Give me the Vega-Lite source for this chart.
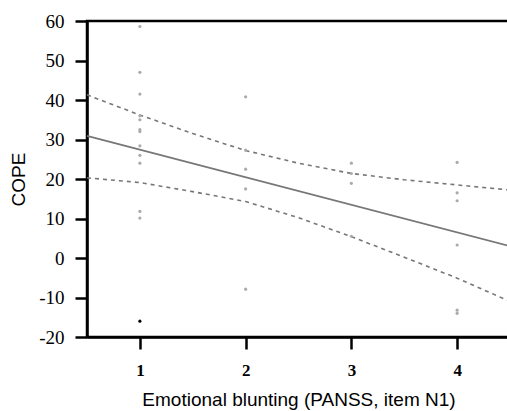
{
  "$schema": "https://vega.github.io/schema/vega-lite/v6.json",
  "autosize": "none",
  "padding": {"left": 87, "top": 21, "right": 0, "bottom": 74},
  "width": 423,
  "height": 316,
  "background": "white",
  "config": {
    "view": {"stroke": "black", "strokeWidth": 2.5},
    "axis": {"grid": false, "ticks": true, "domain": true, "domainColor": "#000000", "domainWidth": 2.5, "domainOpacity": 1, "tickColor": "#000000", "tickOpacity": 1, "tickWidth": 2.5, "tickSize": 12, "labelColor": "#000000", "titleColor": "#000000", "labelOverlap": false, "labelFlush": false, "labelBound": false}
  },
  "datasets": {
    "points": [
      {"x": 1, "y": 58.6, "kind": "regular"},
      {"x": 1, "y": 47, "kind": "regular"},
      {"x": 1, "y": 41.5, "kind": "regular"},
      {"x": 1, "y": 36, "kind": "regular"},
      {"x": 1, "y": 35, "kind": "regular"},
      {"x": 1, "y": 32.5, "kind": "regular"},
      {"x": 1, "y": 32, "kind": "regular"},
      {"x": 1, "y": 28.4, "kind": "regular"},
      {"x": 1, "y": 26, "kind": "regular"},
      {"x": 1, "y": 24, "kind": "regular"},
      {"x": 1, "y": 11.8, "kind": "regular"},
      {"x": 1, "y": 10.1, "kind": "regular"},
      {"x": 1, "y": -16, "kind": "extreme"},
      {"x": 2, "y": 40.8, "kind": "regular"},
      {"x": 2, "y": 27.3, "kind": "regular"},
      {"x": 2, "y": 22.5, "kind": "regular"},
      {"x": 2, "y": 17.5, "kind": "regular"},
      {"x": 2, "y": -7.9, "kind": "regular"},
      {"x": 3, "y": 24, "kind": "regular"},
      {"x": 3, "y": 21.4, "kind": "regular"},
      {"x": 3, "y": 18.9, "kind": "regular"},
      {"x": 3, "y": 5.5, "kind": "regular"},
      {"x": 4, "y": 24.2, "kind": "regular"},
      {"x": 4, "y": 16.5, "kind": "regular"},
      {"x": 4, "y": 14.5, "kind": "regular"},
      {"x": 4, "y": 3.3, "kind": "regular"},
      {"x": 4, "y": -13.2, "kind": "regular"},
      {"x": 4, "y": -14, "kind": "regular"}
    ],
    "fit": [
      {"x": 0.5, "y": 30.9},
      {"x": 4.5, "y": 3.0}
    ],
    "ci": [
      {"x": 0.5, "y": 41.3, "bound": "upper"},
      {"x": 1, "y": 36.2, "bound": "upper"},
      {"x": 1.5, "y": 31.5, "bound": "upper"},
      {"x": 2, "y": 27.2, "bound": "upper"},
      {"x": 2.5, "y": 24, "bound": "upper"},
      {"x": 3, "y": 21.4, "bound": "upper"},
      {"x": 3.5, "y": 19.8, "bound": "upper"},
      {"x": 4, "y": 18.5, "bound": "upper"},
      {"x": 4.5, "y": 17.2, "bound": "upper"},
      {"x": 0.5, "y": 20.3, "bound": "lower"},
      {"x": 1, "y": 19.1, "bound": "lower"},
      {"x": 1.5, "y": 16.8, "bound": "lower"},
      {"x": 2, "y": 14.3, "bound": "lower"},
      {"x": 2.5, "y": 10.2, "bound": "lower"},
      {"x": 3, "y": 5.4, "bound": "lower"},
      {"x": 3.5, "y": 0.2, "bound": "lower"},
      {"x": 4, "y": -5.1, "bound": "lower"},
      {"x": 4.5, "y": -11, "bound": "lower"}
    ]
  },
  "encoding": {
    "x": {"field": "x", "type": "quantitative", "scale": {"domain": [0.5, 4.5], "nice": false, "zero": false},
      "axis": {"values": [1, 2, 3, 4], "format": "d", "ticks": true, "tickColor": "#000000", "tickSize": 12, "tickWidth": 2.5, "title": "Emotional blunting (PANSS, item N1)", "labelFont": "Liberation Serif", "labelFontWeight": "bold", "labelFontSize": 17, "labelPadding": 13, "titleFont": "Liberation Sans", "titleFontSize": 19, "titleFontWeight": "normal", "titlePadding": 12}},
    "y": {"field": "y", "type": "quantitative", "scale": {"domain": [-20, 60], "nice": false, "zero": false},
      "axis": {"values": [-20, -10, 0, 10, 20, 30, 40, 50, 60], "ticks": true, "tickColor": "#000000", "tickSize": 12, "tickWidth": 2.5, "labelExpr": "replace(datum.label, '−', '-')", "title": "COPE", "labelFont": "Liberation Serif", "labelFontSize": 19, "labelPadding": 11, "titleFont": "Liberation Sans", "titleFontSize": 19, "titleFontWeight": "normal", "titlePadding": 10}}
  },
  "layer": [
    {
      "data": {"name": "ci"},
      "mark": {"type": "line", "color": "#777777", "strokeWidth": 1.6, "strokeDash": [4, 4]},
      "encoding": {
        "detail": {"field": "bound", "type": "nominal"}
      }
    },
    {
      "data": {"name": "fit"},
      "mark": {"type": "line", "color": "#777777", "strokeWidth": 1.8},
      "encoding": {}
    },
    {
      "data": {"name": "points"},
      "mark": {"type": "circle", "size": 10, "opacity": 1},
      "encoding": {
        "color": {"field": "kind", "type": "nominal", "scale": {"domain": ["regular", "extreme"], "range": ["#aaaaaa", "#000000"]}, "legend": null}
      }
    }
  ]
}
